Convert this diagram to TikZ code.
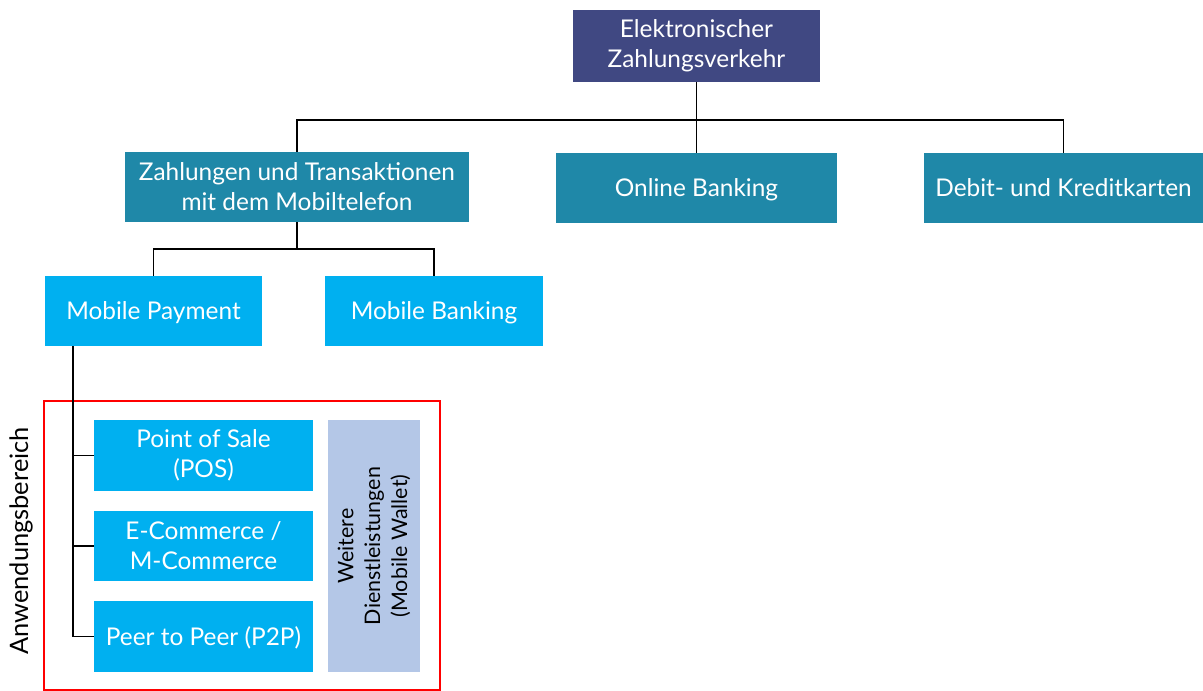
\documentclass[tikz,border=0pt]{standalone}
\usepackage{fontspec}
\setmainfont{Lato}
\definecolor{topblue}{RGB}{64,72,130}
\definecolor{tealb}{RGB}{31,136,168}
\definecolor{skyb}{RGB}{0,176,240}
\definecolor{lightb}{RGB}{180,199,231}
\definecolor{redframe}{RGB}{255,0,0}
\begin{document}
\begin{tikzpicture}[x=1bp,y=-1bp,
  font=\fontsize{24.5}{30}\selectfont,
  box/.style={fill=#1, text=white, align=center, inner sep=0pt, outer sep=0pt},
  oneline/.style={text depth=0pt},
  conn/.style={draw=black, line width=1.5bp},
]
\useasboundingbox (0,0) rectangle (1203,691);
\node[box=topblue, minimum width=247bp, minimum height=72bp] (top) at (696.5,46) {Elektronischer\\Zahlungsverkehr};
\node[box=tealb, minimum width=344bp, minimum height=70bp] (zahl) at (297,187) {Zahlungen und Transaktionen\\mit dem Mobiltelefon};
\node[box=tealb, oneline, minimum width=281bp, minimum height=70bp] (online) at (696.5,188) {Online Banking};
\node[box=tealb, oneline, minimum width=279bp, minimum height=70bp] (debit) at (1063.5,188) {Debit- und Kreditkarten};
\node[box=skyb, oneline, minimum width=217bp, minimum height=70bp] (mp) at (153.5,311) {Mobile Payment};
\node[box=skyb, oneline, minimum width=218bp, minimum height=70bp] (mb) at (434,311) {Mobile Banking};
\node[box=skyb, minimum width=219bp, minimum height=71bp] (pos) at (203.5,455.5) {Point of Sale\\(POS)};
\node[box=skyb, minimum width=219bp, minimum height=70bp] (ecom) at (203.5,546) {E-Commerce /\\M-Commerce};
\node[box=skyb, oneline, minimum width=219bp, minimum height=71bp] (p2p) at (203.5,636.5) {Peer to Peer (P2P)};
\node[box=lightb, text=black, minimum width=92bp, minimum height=252bp] (weitere) at (374,546) {};
\node[rotate=90, align=center, font=\fontsize{21.5}{27}\selectfont, text=black] (weitxt) at (weitere.center) {Weitere\\Dienstleistungen\\(Mobile Wallet)};
\node[draw=redframe, line width=2bp, minimum width=396bp, minimum height=289bp, inner sep=0pt] (frame) at (242,545.5) {};
\node[rotate=90, text=black, font=\fontsize{25.5}{30}\selectfont] (anw) at (21,541) {Anwendungsbereich};
\coordinate (j1) at (696.5,120);
\coordinate (j2) at (297,249);
\coordinate (t0) at (73,346);
\draw[conn] (top.south) -- (j1);
\draw[conn] (j1) -- (online.north);
\draw[conn] (j1) -| (zahl.north);
\draw[conn] (j1) -| (debit.north);
\draw[conn] (zahl.south) -- (j2);
\draw[conn] (j2) -| (mp.north);
\draw[conn] (j2) -| (mb.north);
\draw[conn] (t0) |- (p2p.west);
\draw[conn] (t0 |- pos.west) -- (pos.west);
\draw[conn] (t0 |- ecom.west) -- (ecom.west);
\end{tikzpicture}
\end{document}
